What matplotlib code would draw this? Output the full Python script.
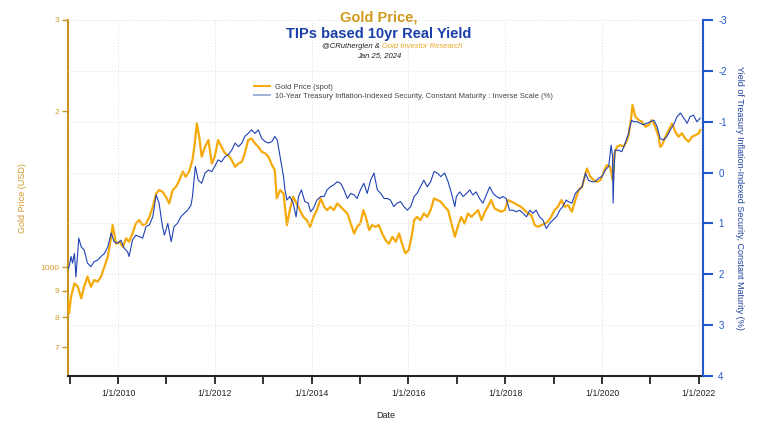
import datetime as dt
import matplotlib
matplotlib.use("Agg")
import matplotlib.pyplot as plt
import matplotlib.dates as mdates
from matplotlib.ticker import FixedLocator, FixedFormatter, FuncFormatter, NullFormatter
from matplotlib.lines import Line2D

plt.rcParams['font.family'] = ['Liberation Sans', 'DejaVu Sans']

# ---------------- data (decimal years) ----------------
gold_years = [
    2008.96, 2008.99, 2009.03, 2009.10, 2009.17, 2009.24, 2009.30, 2009.37, 2009.44, 2009.51,
    2009.58, 2009.65, 2009.72, 2009.79, 2009.86, 2009.89, 2009.96, 2010.03, 2010.10, 2010.17,
    2010.23, 2010.30, 2010.37, 2010.44, 2010.51, 2010.58, 2010.65, 2010.72, 2010.79, 2010.85,
    2010.92, 2010.99, 2011.06, 2011.13, 2011.20, 2011.27, 2011.34, 2011.40, 2011.47, 2011.54,
    2011.58, 2011.63, 2011.68, 2011.73, 2011.80, 2011.87, 2011.94, 2012.00, 2012.07, 2012.14,
    2012.21, 2012.28, 2012.35, 2012.42, 2012.49, 2012.56, 2012.62, 2012.69, 2012.76, 2012.83,
    2012.90, 2012.97, 2013.04, 2013.11, 2013.18, 2013.24, 2013.28, 2013.35, 2013.42, 2013.49,
    2013.55, 2013.62, 2013.69, 2013.76, 2013.83, 2013.90, 2013.97, 2014.04, 2014.11, 2014.19,
    2014.26, 2014.32, 2014.39, 2014.46, 2014.53, 2014.60, 2014.67, 2014.74, 2014.81, 2014.88,
    2014.94, 2015.01, 2015.07, 2015.12, 2015.19, 2015.25, 2015.32, 2015.39, 2015.46, 2015.53,
    2015.60, 2015.67, 2015.74, 2015.81, 2015.87, 2015.94, 2016.01, 2016.08, 2016.12, 2016.18,
    2016.25, 2016.32, 2016.39, 2016.46, 2016.53, 2016.60, 2016.67, 2016.75, 2016.82, 2016.89,
    2016.96, 2017.02, 2017.09, 2017.16, 2017.23, 2017.30, 2017.37, 2017.44, 2017.51, 2017.58,
    2017.64, 2017.71, 2017.78, 2017.85, 2017.92, 2017.99, 2018.06, 2018.13, 2018.20, 2018.26,
    2018.33, 2018.40, 2018.47, 2018.54, 2018.61, 2018.68, 2018.75, 2018.82, 2018.88, 2018.95,
    2019.02, 2019.09, 2019.16, 2019.23, 2019.30, 2019.38, 2019.45, 2019.52, 2019.59, 2019.66,
    2019.69, 2019.76, 2019.83, 2019.90, 2019.97, 2020.04, 2020.10, 2020.17, 2020.22, 2020.26,
    2020.31, 2020.38, 2020.45, 2020.52, 2020.55, 2020.61, 2020.63, 2020.69, 2020.76, 2020.83,
    2020.90, 2020.96, 2021.03, 2021.10, 2021.17, 2021.20, 2021.24, 2021.31, 2021.38, 2021.45,
    2021.51, 2021.58, 2021.65, 2021.72, 2021.79, 2021.86, 2021.93, 2022.00, 2022.03,
]
gold_usd = [
    877, 814, 877, 930, 916, 870, 916, 958, 916, 944,
    937, 958, 1001, 1047, 1144, 1205, 1109, 1119, 1094, 1136,
    1119, 1161, 1214, 1232, 1205, 1214, 1250, 1307, 1387, 1408,
    1398, 1367, 1327, 1408, 1429, 1472, 1529, 1494, 1529, 1609,
    1707, 1894, 1785, 1633, 1707, 1759, 1585, 1633, 1759, 1707,
    1658, 1645, 1609, 1562, 1585, 1597, 1658, 1759, 1771, 1733,
    1707, 1670, 1658, 1633, 1574, 1539, 1357, 1408, 1387, 1205,
    1288, 1367, 1327, 1288, 1250, 1232, 1196, 1250, 1288, 1357,
    1307, 1288, 1307, 1288, 1327, 1307, 1288, 1269, 1214, 1161,
    1196, 1214, 1288, 1250, 1179, 1205, 1196, 1205, 1161, 1127,
    1109, 1144, 1119, 1161, 1109, 1063, 1079, 1161, 1232, 1250,
    1232, 1269, 1250, 1288, 1357, 1347, 1337, 1307, 1288, 1214,
    1144, 1196, 1250, 1214, 1269, 1250, 1269, 1288, 1232, 1279,
    1307, 1347, 1298, 1288, 1279, 1288, 1347, 1337, 1327, 1317,
    1307, 1288, 1269, 1260, 1205, 1196, 1205, 1214, 1223, 1250,
    1288, 1307, 1347, 1307, 1317, 1279, 1347, 1408, 1429, 1516,
    1550, 1494, 1472, 1461, 1472, 1529, 1574, 1562, 1472, 1658,
    1707, 1720, 1707, 1759, 1798, 1966, 2055, 1951, 1922, 1908,
    1866, 1880, 1922, 1866, 1785, 1707, 1720, 1785, 1839, 1894,
    1827, 1785, 1813, 1771, 1746, 1785, 1798, 1813, 1839,
]

tips_years = [
    2008.96, 2008.99, 2009.03, 2009.06, 2009.10, 2009.13, 2009.19, 2009.24, 2009.30, 2009.37,
    2009.44, 2009.51, 2009.58, 2009.65, 2009.72, 2009.79, 2009.86, 2009.92, 2009.99, 2010.06,
    2010.13, 2010.20, 2010.23, 2010.30, 2010.37, 2010.44, 2010.51, 2010.58, 2010.65, 2010.72,
    2010.79, 2010.85, 2010.92, 2010.96, 2011.03, 2011.10, 2011.16, 2011.23, 2011.30, 2011.37,
    2011.44, 2011.51, 2011.54, 2011.58, 2011.60, 2011.66, 2011.73, 2011.80, 2011.87, 2011.94,
    2012.00, 2012.07, 2012.14, 2012.21, 2012.28, 2012.35, 2012.42, 2012.49, 2012.56, 2012.62,
    2012.69, 2012.76, 2012.83, 2012.90, 2012.97, 2013.04, 2013.11, 2013.18, 2013.24, 2013.29,
    2013.35, 2013.42, 2013.45, 2013.49, 2013.55, 2013.62, 2013.68, 2013.73, 2013.79, 2013.86,
    2013.93, 2013.98, 2014.04, 2014.11, 2014.19, 2014.26, 2014.32, 2014.39, 2014.46, 2014.53,
    2014.60, 2014.67, 2014.74, 2014.81, 2014.88, 2014.94, 2015.01, 2015.08, 2015.15, 2015.22,
    2015.29, 2015.36, 2015.43, 2015.50, 2015.57, 2015.63, 2015.70, 2015.77, 2015.84, 2015.91,
    2015.98, 2016.05, 2016.12, 2016.18, 2016.25, 2016.32, 2016.39, 2016.46, 2016.53, 2016.60,
    2016.67, 2016.75, 2016.82, 2016.89, 2016.96, 2016.99, 2017.06, 2017.13, 2017.20, 2017.27,
    2017.33, 2017.40, 2017.47, 2017.54, 2017.61, 2017.68, 2017.75, 2017.82, 2017.89, 2017.95,
    2018.02, 2018.09, 2018.16, 2018.23, 2018.30, 2018.37, 2018.44, 2018.51, 2018.57, 2018.64,
    2018.71, 2018.78, 2018.85, 2018.92, 2018.99, 2019.06, 2019.13, 2019.19, 2019.26, 2019.30,
    2019.38, 2019.45, 2019.52, 2019.59, 2019.66, 2019.72, 2019.79, 2019.86, 2019.93, 2020.00,
    2020.07, 2020.14, 2020.19, 2020.22, 2020.23, 2020.25, 2020.27, 2020.34, 2020.41, 2020.48,
    2020.55, 2020.61, 2020.65, 2020.72, 2020.79, 2020.86, 2020.93, 2021.00, 2021.07, 2021.14,
    2021.20, 2021.27, 2021.34, 2021.41, 2021.48, 2021.55, 2021.62, 2021.69, 2021.76, 2021.82,
    2021.89, 2021.96, 2022.03,
]
tips_yield = [
    1.91, 1.85, 1.65, 1.78, 1.59, 2.05, 1.29, 1.46, 1.52, 1.78,
    1.85, 1.75, 1.72, 1.65, 1.59, 1.46, 1.19, 1.36, 1.39, 1.33,
    1.49, 1.56, 1.65, 1.33, 1.23, 1.26, 1.29, 1.06, 1.03, 0.87,
    0.44, 0.60, 1.06, 1.23, 1.00, 1.36, 1.06, 1.00, 0.87, 0.80,
    0.74, 0.64, 0.47, 0.08, -0.12, 0.15, 0.21, 0.01, -0.05, -0.02,
    -0.12, -0.25, -0.21, -0.31, -0.35, -0.44, -0.58, -0.51, -0.58, -0.71,
    -0.77, -0.84, -0.77, -0.84, -0.67, -0.61, -0.58, -0.61, -0.71, -0.64,
    -0.31, 0.08, 0.34, 0.54, 0.47, 0.60, 0.87, 0.47, 0.34, 0.57,
    0.60, 0.77, 0.70, 0.54, 0.47, 0.47, 0.34, 0.28, 0.24, 0.18,
    0.21, 0.34, 0.51, 0.41, 0.44, 0.51, 0.34, 0.21, 0.41, 0.15,
    0.01, 0.34, 0.41, 0.51, 0.51, 0.54, 0.67, 0.60, 0.57, 0.67,
    0.74, 0.67, 0.47, 0.41, 0.28, 0.15, 0.28, 0.18, -0.02, 0.01,
    0.08, 0.01, 0.18, 0.41, 0.67, 0.47, 0.38, 0.47, 0.41, 0.34,
    0.44, 0.38, 0.51, 0.60, 0.44, 0.28, 0.41, 0.47, 0.51, 0.47,
    0.51, 0.74, 0.74, 0.77, 0.74, 0.80, 0.87, 0.74, 0.80, 0.74,
    0.87, 0.93, 1.10, 1.00, 0.93, 0.87, 0.74, 0.67, 0.54, 0.57,
    0.60, 0.41, 0.34, 0.28, 0.01, 0.15, 0.18, 0.18, 0.11, 0.08,
    -0.05, -0.12, -0.54, -0.31, 0.60, -0.05, -0.44, -0.44, -0.41, -0.58,
    -0.77, -1.03, -1.00, -1.00, -0.97, -0.94, -0.97, -1.00, -1.03, -0.90,
    -0.67, -0.64, -0.71, -0.84, -0.94, -1.10, -1.17, -1.07, -0.97, -1.10,
    -1.13, -1.00, -1.07,
]

gold_ticks = [700, 800, 900, 1000, 2000, 3000]
gold_tick_labels = ["7", "8", "9", "1000", "2", "3"]
yield_ticks = [-3, -2, -1, 0, 1, 2, 3, 4]

title_line1 = "Gold Price,"
title_line2 = "TIPs based 10yr Real Yield"
sub_author = "@CRutherglen &"
sub_brand = "Gold Investor Research"
sub_date = "Jan 25, 2024"
legend_gold = "Gold Price (spot)"
legend_tips = "10-Year Treasury Inflation-Indexed Security, Constant Maturity : Inverse Scale (%)"


def to_date(y):
    year = int(y)
    start = dt.datetime(year, 1, 1)
    days = (dt.datetime(year + 1, 1, 1) - start).days
    return start + dt.timedelta(days=(y - year) * days)


gold_dates = [to_date(y) for y in gold_years]
tips_dates = [to_date(y) for y in tips_years]

GOLD_LINE = '#f5a90a'
GOLD_TXT = '#cf9a2a'
GOLD_AX = '#c8921e'
BLUE_LINE = '#1f42b4'
BLUE_AX = '#2457cc'
BLUE_TXT = '#1d3f9e'

fig = plt.figure(figsize=(7.58, 4.33), dpi=100)
ax = fig.add_axes([68 / 758, 1 - 376 / 433, (703 - 68) / 758, (376 - 20) / 433])
ax2 = ax.twinx()

# gold on log left axis
ax.plot(gold_dates, gold_usd, color=GOLD_LINE, lw=1.6, zorder=3)
ax.set_yscale('log')
ax.set_ylim(616, 3000)
ax.yaxis.set_major_locator(FixedLocator(gold_ticks))
ax.yaxis.set_major_formatter(FixedFormatter(gold_tick_labels))
ax.yaxis.set_minor_locator(FixedLocator([]))
ax.yaxis.set_minor_formatter(NullFormatter())

# TIPS on inverted right axis
ax2.plot(tips_dates, tips_yield, color=BLUE_LINE, lw=0.8, zorder=3)
ax2.set_ylim(4, -3)
ax2.set_yticks(yield_ticks)
ax2.set_yticklabels([str(t) for t in yield_ticks])

ax.set_xlim(to_date(2008.967), to_date(2022.087))
ax.xaxis.set_major_locator(mdates.YearLocator(2))
ax.xaxis.set_minor_locator(mdates.YearLocator(1))
ax.xaxis.set_major_formatter(FuncFormatter(
    lambda v, p: (lambda d: f"{d.month}/{d.day}/{d.year}")(mdates.num2date(v))))

# spines
for a in (ax, ax2):
    a.spines['top'].set_visible(False)
ax.spines['right'].set_visible(False)
ax2.spines['left'].set_visible(False)
ax2.spines['bottom'].set_visible(False)
ax.spines['left'].set_color(GOLD_AX)
ax.spines['left'].set_linewidth(1.5)
ax.spines['bottom'].set_color('#222222')
ax.spines['bottom'].set_linewidth(1.5)
ax2.spines['right'].set_color(BLUE_AX)
ax2.spines['right'].set_linewidth(1.5)

ax.tick_params(axis='y', which='major', colors=GOLD_AX, labelcolor=GOLD_TXT,
               labelsize=6, length=4, width=1.0, pad=2)
ax.tick_params(axis='x', which='both', colors='#222222', labelsize=6.3,
               length=6, width=1.3, pad=3)
ax2.tick_params(axis='y', colors=BLUE_AX, labelcolor=BLUE_AX, labelsize=7,
                length=7, width=1.5, pad=4)

# grid
ax.xaxis.grid(True, which='major', ls=(0, (1, 2)), color='#dcdcdc', lw=0.7)
ax2.yaxis.grid(True, ls=(0, (1, 2)), color='#dcdcdc', lw=0.7, zorder=0)
ax.set_axisbelow(True)
ax2.set_axisbelow(True)

ax.set_xlabel("Date", fontsize=6.5, labelpad=10, color='#222222')
ax.set_ylabel("Gold Price (USD)", fontsize=6.5, color=GOLD_TXT, labelpad=10)
ax2.set_ylabel("Yield of Treasury Inflation-Indexed Security, Constant Maturity (%)",
               fontsize=6.5, color=BLUE_TXT, rotation=-90, labelpad=12)

# titles
fig.text(0.5, 1 - 17 / 433, title_line1, ha='center', va='center', fontsize=10.5,
         fontweight='bold', color='#d09a1e')
fig.text(0.5, 1 - 34 / 433, title_line2, ha='center', va='center', fontsize=10.5,
         fontweight='bold', color='#1a3fa8')
fig.text(380 / 758, 1 - 47 / 433, sub_author, ha='right', va='center', fontsize=5.5,
         style='italic', color='#222222')
fig.text(382 / 758, 1 - 47 / 433, sub_brand, ha='left', va='center', fontsize=5.5,
         style='italic', color='#e8a825')
fig.text(0.5, 1 - 56 / 433, sub_date, ha='center', va='center', fontsize=5.5,
         style='italic', color='#222222')

# legend
handles = [Line2D([], [], color=GOLD_LINE, lw=1.4),
           Line2D([], [], color='#9fb0d8', lw=1.4)]
fig.legend(handles, [legend_gold, legend_tips], loc='upper left',
           bbox_to_anchor=(252 / 758, 1 - 82 / 433), frameon=False, fontsize=5.5,
           handlelength=2.2, handletextpad=0.6, labelspacing=0.25,
           labelcolor='#444444', borderaxespad=0, borderpad=0.2)

fig.savefig("out.png", dpi=100)
